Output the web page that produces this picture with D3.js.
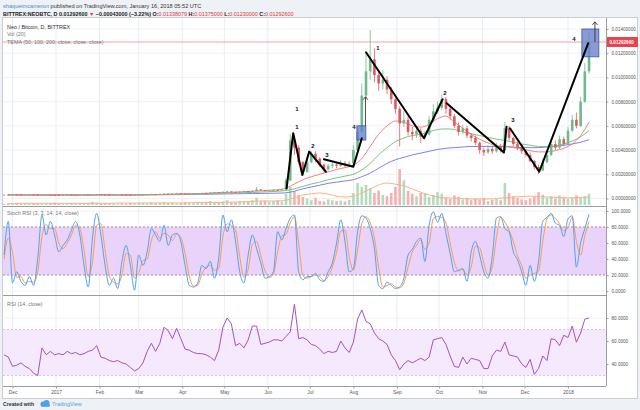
<!DOCTYPE html>
<html>
<head>
<meta charset="utf-8">
<script src="https://cdnjs.cloudflare.com/ajax/libs/d3/7.8.5/d3.min.js"></script>
<style>
  body { margin:0; background:#eef1f5; }
  svg text { font-family:"Liberation Sans", Arial, sans-serif; }
</style>
</head>
<body>
<div id="wrapper"></div>
<script>
// 3-day bars, prices in mBTC (0.001 BTC), first bar = 37 days before 2017-01-01
var closes = [
  0.31,0.30,0.32,0.30,0.29,0.30,0.31,0.30,0.28,0.29,
  0.30,0.29,0.28,0.27,0.28,0.30,0.29,0.28,0.30,0.32,
  0.30,0.31,0.34,0.32,0.30,0.29,0.30,0.31,0.30,0.29,
  0.28,0.29,0.30,0.31,0.33,0.36,0.34,0.37,0.40,0.38,
  0.41,0.43,0.40,0.38,0.39,0.41,0.42,0.45,0.44,0.48,
  0.52,0.50,0.55,0.58,0.54,0.52,0.56,0.60,0.58,0.62,
  0.75,0.68,0.64,0.66,0.70,0.68,0.72,1.5,4.8,4.2,
  3.0,2.2,3.0,3.7,3.3,2.8,2.4,2.7,2.8,2.7,
  2.9,2.8,2.9,4.0,5.5,8.5,10.5,11.5,10.2,9.5,
  9.8,9.0,8.2,7.4,6.2,6.5,5.5,5.3,5.6,5.1,
  5.3,6.5,7.2,7.5,8.2,7.4,6.8,6.0,5.5,5.8,
  5.2,5.0,4.6,4.0,3.8,4.1,3.9,4.3,4.0,5.8,
  5.0,4.5,4.2,3.9,3.6,3.1,2.6,2.3,3.0,3.6,
  4.5,4.2,4.9,4.5,5.6,6.5,6.0,8.0,10.5,12.926
];
var highs = [
  0.33,0.32,0.34,0.33,0.31,0.32,0.33,0.32,0.31,0.31,
  0.32,0.31,0.30,0.29,0.30,0.32,0.31,0.30,0.32,0.35,
  0.33,0.33,0.38,0.35,0.32,0.31,0.32,0.33,0.32,0.31,
  0.30,0.31,0.32,0.33,0.36,0.40,0.37,0.40,0.44,0.41,
  0.44,0.47,0.44,0.41,0.41,0.44,0.45,0.48,0.47,0.51,
  0.56,0.54,0.60,0.63,0.58,0.56,0.60,0.66,0.62,0.68,
  0.95,0.78,0.70,0.70,0.76,0.72,0.80,1.7,5.3,5.2,
  4.4,3.1,3.3,3.9,3.9,3.4,2.9,2.9,3.1,3.0,
  3.2,3.1,3.1,4.4,6.0,9.5,12.0,13.9,12.4,10.6,
  10.6,10.1,9.2,8.3,7.6,7.2,6.8,5.9,5.9,5.8,
  5.6,6.8,7.8,8.0,8.6,8.4,7.6,7.0,6.3,6.1,
  6.0,5.4,5.2,4.7,4.2,4.4,4.3,4.6,4.5,6.3,
  6.0,5.1,4.7,4.4,4.0,3.8,3.2,2.8,3.3,3.9,
  4.9,4.8,5.2,5.1,5.9,6.9,7.1,8.4,11.2,13.75
];
var lows = [
  0.29,0.29,0.29,0.29,0.28,0.28,0.29,0.28,0.27,0.27,
  0.28,0.28,0.27,0.26,0.26,0.27,0.28,0.27,0.27,0.29,
  0.29,0.29,0.30,0.31,0.29,0.28,0.28,0.29,0.29,0.28,
  0.27,0.27,0.28,0.29,0.30,0.32,0.33,0.33,0.36,0.36,
  0.37,0.40,0.38,0.36,0.37,0.38,0.39,0.41,0.42,0.43,
  0.47,0.48,0.50,0.54,0.51,0.49,0.51,0.55,0.55,0.57,
  0.60,0.64,0.60,0.62,0.64,0.64,0.66,0.70,1.4,3.6,
  2.8,1.9,2.1,2.9,3.0,2.6,2.2,2.3,2.5,2.5,
  2.6,2.6,2.7,2.8,3.9,5.4,8.2,9.8,9.6,8.9,
  9.0,8.6,7.8,7.0,4.3,5.9,5.2,4.8,5.0,4.6,
  4.9,5.2,6.4,7.0,7.3,7.0,6.5,5.8,5.2,5.3,
  5.0,4.7,4.4,3.7,3.5,3.7,3.7,3.8,3.8,3.9,
  4.8,4.3,4.0,3.7,3.4,3.0,2.4,2.0,2.3,2.9,
  3.5,4.0,4.1,4.3,4.4,5.5,5.8,5.9,7.9,10.3
];
var volumes = [
  3,4,3,5,3,4,3,3,4,5,
  3,4,6,4,3,4,5,3,4,3,
  5,8,6,4,3,5,4,3,4,3,
  5,4,6,5,4,7,5,6,8,5,
  6,4,5,7,6,5,8,6,7,10,
  8,6,9,12,8,7,10,9,10,12,
  18,9,11,8,10,12,9,28,45,35,
  25,20,16,12,18,10,9,14,12,10,
  11,9,13,30,55,45,50,42,30,36,
  25,22,30,45,90,62,35,28,22,30,
  30,20,25,32,28,18,15,24,20,14,
  18,12,16,14,18,10,13,15,12,55,
  30,22,18,14,12,16,20,32,26,18,
  22,16,24,20,15,18,24,20,22,28
];
var stochK = [
  45,87,10,24,12,7,18,7,41,95,
  70,87,70,49,57,64,76,87,70,32,
  5,66,97,70,32,7,16,3,37,57,
  32,1,45,32,49,78,70,62,82,57,
  70,72,62,32,7,5,10,32,28,37,
  16,41,95,74,89,62,24,10,45,70,
  53,35,16,18,24,74,64,78,91,95,
  24,14,18,18,22,14,12,24,35,60,
  89,62,24,28,74,94,91,78,53,7,
  3,11,7,3,5,16,45,52,62,66,
  37,82,99,86,97,72,47,24,26,28,
  12,49,62,45,24,16,43,91,93,78,
  74,49,39,24,7,32,12,37,87,92,
  97,85,82,68,90,94,30,60,78,96
];
var stochD = [
  40,66,48,17,18,10,12,11,24,68,
  83,78,78,60,53,60,70,82,78,51,
  18,36,82,84,51,19,11,9,20,47,
  45,16,23,38,40,63,74,66,72,70,
  63,71,67,47,19,6,7,21,30,32,
  26,28,68,84,82,76,43,17,27,58,
  62,44,25,17,21,49,69,71,85,93,
  60,19,16,18,20,18,13,18,30,48,
  75,76,43,26,51,84,93,85,66,30,
  5,7,9,5,4,10,30,49,57,64,
  52,60,91,93,92,85,60,36,25,27,
  20,30,56,54,35,20,30,67,92,86,
  76,62,44,32,16,20,22,25,62,90,
  95,91,84,75,79,92,62,45,69,87
];
var rsi = [
  48,46,38,39,41,38,36,32,30,54,
  48,51,48,49,48,51,49,50,48,49,
  51,52,56,46,45,43,42,43,41,40,
  37,34,36,41,51,58,51,58,72,69,
  62,71,62,53,52,50,49,49,48,46,
  43,52,72,80,75,56,58,54,61,73,
  73,57,58,59,61,61,60,64,68,92,
  62,63,61,57,56,53,49,51,50,51,
  60,54,50,59,79,87,77,75,67,62,
  60,57,48,43,35,40,43,41,43,45,
  43,46,61,62,63,57,47,38,37,46,
  40,45,44,43,36,36,47,52,51,59,
  48,47,46,40,37,44,31,36,47,43,
  62,61,56,65,63,73,59,67,79,80
];
// 6-day points for the smooth lines (mBTC / volume units)
var temaRed = [
  0.30,0.30,0.31,0.30,0.29,0.29,0.30,0.30,0.29,0.29,
  0.30,0.30,0.31,0.30,0.30,0.31,0.31,0.32,0.33,0.35,
  0.36,0.38,0.40,0.42,0.45,0.48,0.50,0.53,0.56,0.60,
  0.64,0.68,0.72,0.85,1.2,1.55,1.8,2.0,2.2,2.4,
  2.55,2.75,3.3,4.3,5.3,6.0,6.4,6.3,6.0,5.9,
  6.1,6.6,6.8,6.3,5.8,5.3,4.9,4.6,4.35,4.3,
  4.2,4.1,3.95,3.85,3.85,3.95,4.15,4.5,5.2,6.3
];
var temaGreen = [
  0.30,0.30,0.30,0.30,0.30,0.29,0.29,0.30,0.30,0.29,
  0.29,0.30,0.30,0.30,0.30,0.30,0.31,0.31,0.32,0.33,
  0.34,0.35,0.37,0.38,0.40,0.42,0.44,0.46,0.48,0.50,
  0.53,0.56,0.60,0.66,0.80,1.0,1.2,1.35,1.55,1.7,
  1.85,2.0,2.35,2.9,3.6,4.2,4.7,5.0,5.2,5.3,
  5.5,5.7,5.75,5.7,5.5,5.35,5.2,5.05,4.9,4.8,
  4.65,4.5,4.4,4.3,4.3,4.35,4.5,4.75,5.1,5.6
];
var temaBlue = [
  0.30,0.30,0.30,0.30,0.30,0.30,0.30,0.30,0.30,0.30,
  0.30,0.30,0.30,0.30,0.30,0.30,0.30,0.31,0.31,0.32,
  0.32,0.33,0.34,0.35,0.36,0.37,0.38,0.39,0.40,0.41,
  0.42,0.43,0.44,0.47,0.6,0.8,0.95,1.1,1.25,1.35,
  1.45,1.55,1.8,2.1,2.5,2.9,3.2,3.4,3.6,3.75,
  3.9,4.05,4.15,4.2,4.25,4.3,4.3,4.3,4.3,4.3,
  4.25,4.2,4.2,4.2,4.25,4.3,4.4,4.5,4.65,4.85
];
var volMA = [
  4,4,4,4,4,4,4,4,4,4,
  4,4,4,5,5,5,5,5,5,5,
  5,5,6,6,6,6,7,7,8,9,
  10,10,10,12,18,25,28,30,27,22,
  20,22,30,40,50,55,52,48,40,32,
  25,20,18,17,16,15,15,15,16,18,
  20,21,22,21,20,19,18,18,19,20
];

var priceTicks = [0,2,4,6,8,10,12,14];
var stochTicks = [0,20,40,60,80,100];
var rsiTicks = [40,60,80];
var stochBand = [20,80];
var rsiBand = [30,70];
var lastPrice = 12.926;
var monthTicks = ['2016-12-01','2017-01-01','2017-02-01','2017-03-01','2017-04-01','2017-05-01','2017-06-01',
                  '2017-07-01','2017-08-01','2017-09-01','2017-10-01','2017-11-01','2017-12-01','2018-01-01'];
var monthLabels = ['Dec','2017','Feb','Mar','Apr','May','Jun','Jul','Aug','Sep','Oct','Nov','Dec','2018'];

// drawings: [day since 2017-01-01, price mBTC]
var annoPaths = [
  [[164.4,0.84],[169.1,5.39],[175.6,1.94],[180.5,3.87],[192.4,2.21]],
  [[191,3.24],[212,2.63],[218,4.98]],
  [[221,12.08],[262.3,4.98],[275.6,8.2]],
  [[278.5,7.87],[319.3,3.79],[321.2,5.93]],
  [[323.6,5.8],[344.5,2.21],[379.4,12.83]]
];
var annoBoxes = [[214.5,220.9,4.83,6.0],[374.9,387,11.7,14.0]];
var annoArrows = [[220.6,6.0,8.4],[384.2,12.93,14.59]];
var annoLabels = [['1',171.8,7.4],['1',171.8,5.9],['2',183.2,4.34],['3',193.2,3.6],['4',212.4,5.9],
                  ['1',229.5,12.4],['2',277.3,8.7],['3',325.7,6.5],['4',369.2,13.2]];

function dayDate(d){ return new Date(Date.UTC(2017,0,1) + d*864e5); }
var parseDay = d3.utcParse('%Y-%m-%d');
var monthDates = monthTicks.map(parseDay);

var bars = closes.map(function(c,i){
  var o = i>0 ? closes[i-1] : c;
  return {date:dayDate(-37+3*i), o:o, c:c, h:highs[i], l:lows[i], v:volumes[i],
          k:stochK[i], d:stochD[i], rsi:rsi[i], up:c>=o};
});
var smooth = temaRed.map(function(r,j){
  return {date:dayDate(-34+6*j), r:r, g:temaGreen[j], b:temaBlue[j], vma:volMA[j]};
});

var L = 3, R = 606;
var mainTop = 18, mainBot = 206, stochBot = 295, rsiBot = 386;

var x = d3.scaleUtc().domain([dayDate(0), dayDate(365)]).range([56,568]);
var yPrice = d3.scaleLinear().domain([0,14]).range([198.5,29]);
var yVol = d3.scaleLinear().domain([0,100]).range([205,165]);
var yStoch = d3.scaleLinear().domain([0,100]).range([291,211]);
var yRsi = d3.scaleLinear().domain([0,100]).range([410,295]);

var svg = d3.select('#wrapper').append('svg')
  .attr('width',640).attr('height',410).style('display','block');

svg.append('rect').attr('width',640).attr('height',410).attr('fill','#eef1f5');
svg.append('rect').attr('x',2.5).attr('y',17.5).attr('width',635).attr('height',381)
  .attr('fill','#fff').attr('stroke','#c9cdd2');

var defs = svg.append('defs');
[['clipMain',mainTop,mainBot],['clipStoch',mainBot,stochBot],['clipRsi',stochBot,rsiBot]].forEach(function(c){
  defs.append('clipPath').attr('id',c[0]).append('rect')
    .attr('x',L).attr('y',c[1]).attr('width',R-L).attr('height',c[2]-c[1]);
});

// header
var h1 = svg.append('text').attr('x',3).attr('y',7.5).style('font-size','5.6px');
h1.append('tspan').attr('fill','#3d8fd6').text('shaqueimcameron');
h1.append('tspan').attr('fill','#333').text(' published on TradingView.com, January 16, 2018 05:52 UTC');

var h2 = svg.append('text').attr('x',3).attr('y',15.5).style('font-size','5.4px').style('font-weight','bold');
[['BITTREX:NEOBTC, D ','#222'],['0.01292600 ','#222'],['\u25BC','#e0393e'],[' \u22120.00043000 (\u22123.22%) ','#222'],
 ['O:','#222'],['0.01338079','#e0393e'],[' H:','#222'],['0.01375000','#e0393e'],
 [' L:','#222'],['0.01230000','#e0393e'],[' C:','#222'],['0.01292600','#e0393e']].forEach(function(p){
  h2.append('tspan').attr('fill',p[1]).style('font-weight', p[1]==='#e0393e' ? 'normal' : 'bold').text(p[0]);
});

// grid
var grid = svg.append('g');
grid.selectAll('line.v').data(monthDates).enter().append('line')
  .attr('x1',function(d){ return x(d); }).attr('x2',function(d){ return x(d); })
  .attr('y1',mainTop).attr('y2',rsiBot).attr('stroke','#e6edf4').attr('stroke-width',1);
grid.selectAll('line.p').data(priceTicks).enter().append('line')
  .attr('x1',L).attr('x2',R).attr('y1',function(d){ return yPrice(d); }).attr('y2',function(d){ return yPrice(d); })
  .attr('stroke','#eef2f6');
grid.selectAll('line.s').data(stochTicks).enter().append('line')
  .attr('x1',L).attr('x2',R).attr('y1',function(d){ return yStoch(d); }).attr('y2',function(d){ return yStoch(d); })
  .attr('stroke','#eef2f6');
grid.selectAll('line.r').data(rsiTicks).enter().append('line')
  .attr('x1',L).attr('x2',R).attr('y1',function(d){ return yRsi(d); }).attr('y2',function(d){ return yRsi(d); })
  .attr('stroke','#eef2f6');

// main pane
var main = svg.append('g').attr('clip-path','url(#clipMain)');
var bw = 2.6;

main.selectAll('rect.vol').data(bars).enter().append('rect')
  .attr('x',function(d){ return x(d.date)-bw/2; })
  .attr('y',function(d){ return yVol(d.v); })
  .attr('width',bw)
  .attr('height',function(d){ return yVol(0)-yVol(d.v); })
  .attr('fill',function(d){ return d.up ? '#b3dcbf' : '#f3b1b1'; });

function smoothLine(key, ys){
  return d3.line().x(function(d){ return x(d.date); }).y(function(d){ return ys(d[key]); }).curve(d3.curveMonotoneX);
}
main.append('path').datum(smooth).attr('d',smoothLine('vma',yVol))
  .attr('fill','none').attr('stroke','#ffb27a').attr('stroke-width',1);

main.append('line').attr('x1',L).attr('x2',R)
  .attr('y1',yPrice(lastPrice)).attr('y2',yPrice(lastPrice))
  .attr('stroke','#f3a3a6').attr('stroke-width',1);

[['b','#7f7ff2'],['g','#7cc47c'],['r','#f47f7f']].forEach(function(s){
  main.append('path').datum(smooth).attr('d',smoothLine(s[0],yPrice))
    .attr('fill','none').attr('stroke',s[1]).attr('stroke-width',1);
});

main.selectAll('line.wick').data(bars).enter().append('line')
  .attr('x1',function(d){ return x(d.date); }).attr('x2',function(d){ return x(d.date); })
  .attr('y1',function(d){ return yPrice(d.h); }).attr('y2',function(d){ return yPrice(d.l); })
  .attr('stroke',function(d){ return d.up ? '#6fb98a' : '#df5b5b'; }).attr('stroke-width',0.8);
main.selectAll('rect.body').data(bars).enter().append('rect')
  .attr('x',function(d){ return x(d.date)-bw/2; })
  .attr('y',function(d){ return yPrice(Math.max(d.o,d.c)); })
  .attr('width',bw)
  .attr('height',function(d){ return Math.max(0.8, Math.abs(yPrice(d.o)-yPrice(d.c))); })
  .attr('fill',function(d){ return d.up ? '#6fb98a' : '#df5b5b'; });

// drawings
var anno = main.append('g');
anno.selectAll('rect').data(annoBoxes).enter().append('rect')
  .attr('x',function(d){ return x(dayDate(d[0])); })
  .attr('y',function(d){ return yPrice(d[3]); })
  .attr('width',function(d){ return x(dayDate(d[1]))-x(dayDate(d[0])); })
  .attr('height',function(d){ return yPrice(d[2])-yPrice(d[3]); })
  .attr('fill','#6a82cc').attr('fill-opacity',0.8).attr('stroke','#3c57a8').attr('stroke-width',0.8);
var pline = d3.line().x(function(d){ return x(dayDate(d[0])); }).y(function(d){ return yPrice(d[1]); });
anno.selectAll('path.seg').data(annoPaths).enter().append('path')
  .attr('d',pline).attr('fill','none').attr('stroke','#000').attr('stroke-width',2)
  .attr('stroke-linejoin','round').attr('stroke-linecap','round');
annoArrows.forEach(function(a){
  var ax = x(dayDate(a[0])), y0 = yPrice(a[1]), y1 = yPrice(a[2]);
  anno.append('line').attr('x1',ax).attr('x2',ax).attr('y1',y0).attr('y2',y1)
    .attr('stroke','#333').attr('stroke-width',0.9);
  anno.append('path').attr('d','M'+(ax-2.5)+','+(y1+3)+'L'+ax+','+y1+'L'+(ax+2.5)+','+(y1+3))
    .attr('fill','none').attr('stroke','#333').attr('stroke-width',0.9);
});
anno.selectAll('text').data(annoLabels).enter().append('text')
  .attr('x',function(d){ return x(dayDate(d[1])); })
  .attr('y',function(d){ return yPrice(d[2]); })
  .attr('dy','0.35em').attr('text-anchor','middle')
  .style('font-size','6px').style('font-weight','bold').attr('fill','#111')
  .text(function(d){ return d[0]; });

// pane titles
svg.append('text').attr('x',7).attr('y',29).style('font-size','5.4px').attr('fill','#333').text('Neo / Bitcoin, D, BITTREX');
svg.append('text').attr('x',7).attr('y',36).style('font-size','5.4px').attr('fill','#777').text('Vol (20)');
svg.append('text').attr('x',7).attr('y',43.5).style('font-size','5.4px').attr('fill','#777').text('TEMA (50, 100, 200, close, close, close)');

// stoch pane
var sp = svg.append('g').attr('clip-path','url(#clipStoch)');
sp.append('rect').attr('x',L).attr('width',R-L)
  .attr('y',yStoch(stochBand[1])).attr('height',yStoch(stochBand[0])-yStoch(stochBand[1]))
  .attr('fill','#e9d3fb');
sp.selectAll('line.band').data(stochBand).enter().append('line')
  .attr('x1',L).attr('x2',R).attr('y1',function(d){ return yStoch(d); }).attr('y2',function(d){ return yStoch(d); })
  .attr('stroke','#a3909f').attr('stroke-dasharray','2,2');
sp.append('path').datum(bars)
  .attr('d',d3.line().x(function(d){ return x(d.date); }).y(function(d){ return yStoch(d.d); }).curve(d3.curveMonotoneX))
  .attr('fill','none').attr('stroke','#ff9a4a').attr('stroke-width',1);
sp.append('path').datum(bars)
  .attr('d',d3.line().x(function(d){ return x(d.date); }).y(function(d){ return yStoch(d.k); }).curve(d3.curveMonotoneX))
  .attr('fill','none').attr('stroke','#4aa3f5').attr('stroke-width',1);
svg.append('text').attr('x',7).attr('y',215).style('font-size','5.4px').attr('fill','#777').text('Stoch RSI (3, 3, 14, 14, close)');

// rsi pane
var rp = svg.append('g').attr('clip-path','url(#clipRsi)');
rp.append('rect').attr('x',L).attr('width',R-L)
  .attr('y',yRsi(rsiBand[1])).attr('height',yRsi(rsiBand[0])-yRsi(rsiBand[1]))
  .attr('fill','#f5e9fd');
rp.selectAll('line.band').data(rsiBand).enter().append('line')
  .attr('x1',L).attr('x2',R).attr('y1',function(d){ return yRsi(d); }).attr('y2',function(d){ return yRsi(d); })
  .attr('stroke','#dcc0ee').attr('stroke-dasharray','2,2');
rp.append('path').datum(bars)
  .attr('d',d3.line().x(function(d){ return x(d.date); }).y(function(d){ return yRsi(d.rsi); }))
  .attr('fill','none').attr('stroke','#a650c6').attr('stroke-width',1);
svg.append('text').attr('x',7).attr('y',306).style('font-size','5.4px').attr('fill','#777').text('RSI (14, close)');

// borders
svg.append('line').attr('x1',R+0.5).attr('x2',R+0.5).attr('y1',mainTop).attr('y2',rsiBot).attr('stroke','#9a9ea3');
[mainBot, stochBot, rsiBot].forEach(function(y){
  svg.append('line').attr('x1',L).attr('x2',R).attr('y1',y+0.5).attr('y2',y+0.5).attr('stroke','#9a9ea3');
});
svg.append('line').attr('x1',L-0.5).attr('x2',L-0.5).attr('y1',mainTop).attr('y2',rsiBot).attr('stroke','#c9cdd2');

// axes (d3 sets font-size on the group, so restyle the texts afterwards)
function styleAxis(size){
  return function(g){
    g.attr('font-size',null).attr('font-family',null);
    g.select('.domain').remove();
    g.selectAll('line').attr('stroke','#9a9ea3');
    g.selectAll('text').attr('fill','#555').style('font-size',size);
  };
}
svg.append('g').attr('transform','translate('+(R+0.5)+',0)')
  .call(d3.axisRight(yPrice).tickValues(priceTicks).tickSize(2).tickPadding(3)
    .tickFormat(function(d){ return (d/1000).toFixed(8); }))
  .call(styleAxis('4.6px'));
svg.append('g').attr('transform','translate('+(R+0.5)+',0)')
  .call(d3.axisRight(yStoch).tickValues(stochTicks).tickSize(2).tickPadding(3)
    .tickFormat(function(d){ return d.toFixed(4); }))
  .call(styleAxis('4.6px'));
svg.append('g').attr('transform','translate('+(R+0.5)+',0)')
  .call(d3.axisRight(yRsi).tickValues(rsiTicks).tickSize(2).tickPadding(3)
    .tickFormat(function(d){ return d.toFixed(4); }))
  .call(styleAxis('4.6px'));

var ly = yPrice(lastPrice);
svg.append('rect').attr('x',R+1).attr('y',ly-5).attr('width',31).attr('height',10).attr('fill','#e8434e');
svg.append('text').attr('x',R+3.5).attr('y',ly).attr('dy','0.35em').style('font-size','4.6px')
  .style('font-weight','bold').attr('fill','#fff').text((lastPrice/1000).toFixed(8));

svg.append('g').attr('transform','translate(0,'+(rsiBot+0.5)+')')
  .call(d3.axisBottom(x).tickValues(monthDates).tickSize(2).tickPadding(2)
    .tickFormat(function(d,i){ return monthLabels[i]; }))
  .call(styleAxis('4.8px'));

// footer
svg.append('text').attr('x',3).attr('y',405.5).style('font-size','5.2px').style('font-weight','bold')
  .attr('fill','#333').text('Created with');
var logo = svg.append('g').attr('transform','translate(40,400)');
logo.append('circle').attr('cx',3).attr('cy',4).attr('r',2.6).attr('fill','#4aa3e6');
logo.append('circle').attr('cx',6.5).attr('cy',3).attr('r',3).attr('fill','#4aa3e6');
logo.append('rect').attr('x',1).attr('y',4).attr('width',9).attr('height',2.8).attr('rx',1.2).attr('fill','#4aa3e6');
svg.append('text').attr('x',52).attr('y',405.5).style('font-size','5.4px').attr('fill','#4aa3e6').text('TradingView');
</script>
</body>
</html>
